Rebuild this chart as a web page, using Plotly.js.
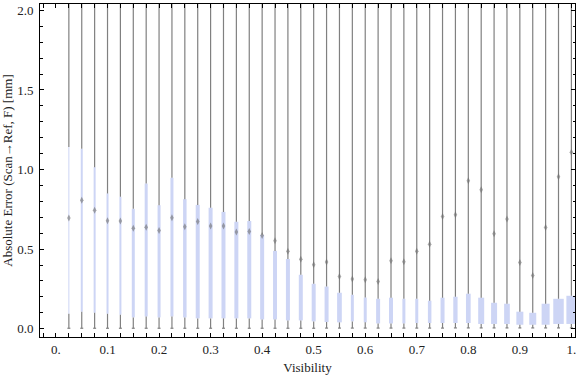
<!DOCTYPE html>
<html>
<head>
<meta charset="utf-8">
<script src="https://cdn.plot.ly/plotly-3.0.1.min.js"></script>
<style>html,body{margin:0;padding:0;background:#fff;}#chart{width:576px;height:375px;}</style>
</head>
<body>
<div id="chart"></div>
<script>
// Visibility bins (box centers)
const visibility = [0.025,0.05,0.075,0.1,0.125,0.15,0.175,0.2,0.225,0.25,
  0.275,0.3,0.325,0.35,0.375,0.4,0.425,0.45,0.475,0.5,
  0.525,0.55,0.575,0.6,0.625,0.65,0.675,0.7,0.725,0.75,
  0.775,0.8,0.825,0.85,0.875,0.9,0.925,0.95,0.975,1.0];
// Lower quartile (box bottom)
const q1 = [0.094,0.107,0.100,0.094,0.088,0.071,0.077,0.071,0.077,0.071,
  0.065,0.065,0.065,0.065,0.065,0.058,0.058,0.052,0.052,0.046,
  0.042,0.040,0.046,0.040,0.033,0.033,0.033,0.036,0.036,0.036,
  0.036,0.036,0.030,0.030,0.030,0.025,0.025,0.025,0.030,0.030];
// Upper quartile (box top)
const q3 = [1.142,1.130,1.015,0.850,0.829,0.753,0.912,0.776,0.948,0.814,
  0.778,0.760,0.734,0.672,0.677,0.590,0.489,0.438,0.339,0.282,
  0.265,0.226,0.213,0.196,0.188,0.195,0.188,0.188,0.176,0.195,
  0.201,0.220,0.195,0.163,0.157,0.107,0.100,0.157,0.188,0.207];
// Mean marks
const meanErr = [0.695,0.807,0.744,0.678,0.676,0.631,0.638,0.617,0.697,0.640,
  0.673,0.645,0.645,0.607,0.611,0.586,0.553,0.487,0.437,0.402,
  0.419,0.328,0.312,0.308,0.297,0.427,0.421,0.487,0.530,0.705,
  0.716,0.929,0.873,0.596,0.689,0.416,0.335,0.636,0.954,1.109];
// Whisker ends (minimum, maximum; maxima lie above the plotted range)
const whiskerLow = [0.003,0.003,0.003,0.003,0.003,0.003,0.003,0.003,0.003,0.003,
  0.003,0.003,0.003,0.003,0.003,0.003,0.003,0.003,0.003,0.003,
  0.004,0.004,0.004,0.004,0.004,0.004,0.004,0.004,0.004,0.004,
  0.005,0.005,0.005,0.005,0.005,0.005,0.005,0.005,0.005,0.005];
const whiskerHigh = [2.6,2.7,2.5,2.6,2.8,2.5,2.6,2.7,2.5,2.6,
  2.5,2.7,2.6,2.5,2.6,2.7,2.5,2.6,2.5,2.6,
  2.7,2.5,2.6,2.5,2.6,2.7,2.5,2.6,2.5,2.7,
  2.6,2.5,2.6,2.7,2.5,2.6,2.5,2.6,2.7,2.6];
// Tick labels
const xTickVals = [0,0.1,0.2,0.3,0.4,0.5,0.6,0.7,0.8,0.9,1.0];
const xTickText = ['0.','0.1','0.2','0.3','0.4','0.5','0.6','0.7','0.8','0.9','1.'];
const yTickVals = [0,0.5,1.0,1.5,2.0];
const yTickText = ['0.0','0.5','1.0','1.5','2.0'];

// style: box widths in pixels
const boxWidthPx = [1,2,2,2,2,3,3,3,3,3.5,
  4,4,4,4,4,4,4,4,4,4,
  4,4.7,3,3,4,4,3,3,3.5,4,
  4.3,4.7,6,6,5.7,7,7,8,10.5,10];

const xRange = [-0.031, 1.007];
const plotW = 576 - 40 - 1;
const pxPerUnit = plotW / (xRange[1] - xRange[0]);
const capHalf = 1.5 / pxPerUnit;

const wx = [], wy = [], cx = [], cy = [];
for (let i = 0; i < visibility.length; i++) {
  const x = visibility[i];
  wx.push(x, x, null, x, x, null);
  wy.push(whiskerLow[i], q1[i], null, q3[i], whiskerHigh[i], null);
  cx.push(x - capHalf, x + capHalf, null);
  cy.push(whiskerLow[i], whiskerLow[i], null);
}

const traces = [
  {type:'bar', x: visibility, base: q1, y: q3.map((v,i)=>v-q1[i]),
   width: boxWidthPx.map(w=>w/pxPerUnit),
   marker:{color:'#cdd5f5', line:{width:0}}, hoverinfo:'skip', showlegend:false},
  {type:'scatter', mode:'lines', x: wx, y: wy, line:{color:'#808080', width:1.2},
   hoverinfo:'skip', showlegend:false},
  {type:'scatter', mode:'lines', x: cx, y: cy, line:{color:'#808080', width:1.2},
   hoverinfo:'skip', showlegend:false},
  {type:'scatter', mode:'markers', x: visibility, y: meanErr,
   marker:{symbol:'diamond-tall', size:5, color:'rgba(110,110,110,0.6)', line:{width:0}},
   hoverinfo:'skip', showlegend:false}
];

const font = {family:'"Liberation Serif", "Times New Roman", serif', size:13, color:'#222'};

const layout = {
  width:576, height:375,
  margin:{l:40, r:1, t:4, b:38},
  paper_bgcolor:'#fff', plot_bgcolor:'#fff',
  font: font,
  barmode:'overlay',
  xaxis:{
    range: xRange, showgrid:false, zeroline:false,
    showline:true, linecolor:'#000', linewidth:1, mirror:'ticks',
    ticks:'inside', ticklen:4, tickcolor:'#000', tickwidth:1,
    tickvals: xTickVals, ticktext: xTickText,
    tickfont: font, ticklabeloverflow:'allow',
    minor:{tick0:0, dtick:0.025, ticks:'inside', ticklen:4, tickcolor:'#000', showgrid:false},
    title:{text:'Visibility', font: font, standoff:8}
  },
  yaxis:{
    range:[-0.052, 2.04], showgrid:false, zeroline:false,
    showline:true, linecolor:'#000', linewidth:1, mirror:'ticks',
    ticks:'inside', ticklen:4, tickcolor:'#000', tickwidth:1,
    tickvals: yTickVals, ticktext: yTickText,
    tickfont: font, ticklabelstandoff:3, ticklabeloverflow:'allow',
    minor:{tick0:0, dtick:0.1, ticks:'inside', ticklen:2.5, tickcolor:'#000', showgrid:false},
    title:{text:'Absolute Error (Scan\u2192Ref, F) [mm]', font: font, standoff:4}
  }
};

Plotly.newPlot('chart', traces, layout, {displayModeBar:false, staticPlot:true});
</script>
</body>
</html>
